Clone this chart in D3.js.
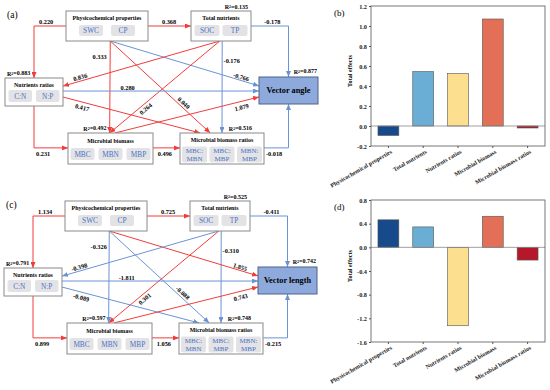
<!DOCTYPE html>
<html lang="en">
<head>
<meta charset="UTF-8" />
<title>SEM paths and total effects</title>
<script src="https://d3js.org/d3.v7.min.js"></script>
<style>
  body { margin: 0; background: #fff; }
  svg { font-family: "Liberation Serif", "Times New Roman", serif; }
</style>
</head>
<body>
<svg id="fig" width="550" height="390"></svg>
<script>
// latent constructs of the path model
var constructNames = ["Physicochemical properties", "Total nutrients", "Nutrients ratios", "Microbial biomass", "Microbial biomass ratios"];
var constructKeys = ["PP", "TN", "NR", "MB", "MBR"];
var indicators = [["SWC", "CP"], ["SOC", "TP"], ["C:N", "N:P"], ["MBC", "MBN", "MBP"], ["MBC:|MBN", "MBC:|MBP", "MBN:|MBP"]];
var responses = ["Vector angle", "Vector length"];

// paths and their coefficients
var pathFrom = ["PP", "PP", "TN", "MBR", "TN", "PP", "PP", "PP", "TN", "TN", "NR", "NR", "NR", "MB", "MB"];
var pathTo   = ["NR", "TN", "Y", "Y", "MBR", "MB", "Y", "MBR", "NR", "MB", "Y", "MBR", "MB", "MBR", "Y"];
var coefAngle  = [0.220, 0.368, -0.178, -0.018, -0.176, 0.333, -0.766, 0.040, 0.836, 0.264, 0.280, 0.417, 0.231, 0.496, 1.079];
var coefLength = [1.134, 0.725, -0.411, -0.215, -0.310, -0.326, 1.855, -0.088, -0.398, 0.301, -1.811, -0.089, 0.899, 1.056, 0.743];

// R2 for TN, NR, MB, MBR, response
var r2Angle  = [0.135, 0.883, 0.492, 0.516, 0.877];
var r2Length = [0.525, 0.791, 0.597, 0.748, 0.742];

// total effects
var effectNames = ["Physicochemical properties", "Total nutrients", "Nutrients ratios", "Microbial biomass", "Microbial biomass ratios"];
var totalAngle  = [-0.095, 0.545, 0.525, 1.07, -0.02];
var totalLength = [0.465, 0.345, -1.325, 0.525, -0.215];
var ticksAngle  = [-0.2, 0.0, 0.2, 0.4, 0.6, 0.8, 1.0, 1.2];
var ticksLength = [-1.6, -1.2, -0.8, -0.4, 0.0, 0.4, 0.8];

var RED = "#f23c3c", BLUE = "#6a93d6";
var barColors = ["#174a8b", "#6aaed6", "#fde08f", "#e36f56", "#b5182b"];

var svg = d3.select("#fig");

var defs = svg.append("defs");
[["red", RED], ["blue", BLUE]].forEach(function (m) {
  defs.append("marker")
    .attr("id", "arr-" + m[0])
    .attr("markerUnits", "userSpaceOnUse")
    .attr("viewBox", "0 0 6 5")
    .attr("refX", 6).attr("refY", 2.5)
    .attr("markerWidth", 6).attr("markerHeight", 5)
    .attr("orient", "auto")
    .append("path").attr("d", "M0,0L6,2.5L0,5Z").attr("fill", m[1]);
});

// box layout of the diagram (panel coords)
var box = {
  PP:  {x: 66,  y: 11,  w: 82, h: 30, sw: 24,   gap: 8,   sy: 14,   sh: 11, ty: 6.5},
  TN:  {x: 191, y: 11,  w: 60, h: 30, sw: 25,   gap: 3,   sy: 14,   sh: 11, ty: 6.5},
  NR:  {x: 5,   y: 78,  w: 58, h: 28, sw: 23.5, gap: 4,   sy: 12,   sh: 12, ty: 6.5},
  MB:  {x: 68,  y: 133, w: 85, h: 31, sw: 24,   gap: 4,   sy: 15,   sh: 12, ty: 7.5},
  MBR: {x: 180, y: 133, w: 84, h: 31, sw: 25,   gap: 2.5, sy: 13.5, sh: 16, ty: 7},
  Y:   {x: 259, y: 77,  w: 59, h: 27}
};
function L(k, f) { var b = box[k]; return [b.x, b.y + f * b.h]; }
function R(k, f) { var b = box[k]; return [b.x + b.w, b.y + f * b.h]; }
function T(k, f) { var b = box[k]; return [b.x + f * b.w, b.y]; }
function B(k, f) { var b = box[k]; return [b.x + f * b.w, b.y + b.h]; }

var routes = {
  "PP-NR":  function () { var s = L("PP", 0.5), e = T("NR", 0.5); return [s, [e[0], s[1]], e]; },
  "PP-TN":  function () { return [R("PP", 0.5), L("TN", 0.5)]; },
  "TN-Y":   function () { var s = R("TN", 0.5), e = T("Y", 0.5); return [s, [e[0], s[1]], e]; },
  "MBR-Y":  function () { var s = R("MBR", 0.48), e = B("Y", 0.5); return [s, [e[0], s[1]], e]; },
  "TN-MBR": function () { return [B("TN", 0.52), T("MBR", 0.5)]; },
  "PP-MB":  function () { return [B("PP", 0.54), T("MB", 0.49)]; },
  "PP-Y":   function () { return [B("PP", 0.54), L("Y", 0.33)]; },
  "PP-MBR": function () { return [B("PP", 0.54), T("MBR", 0.36)]; },
  "TN-NR":  function () { return [B("TN", 0.48), R("NR", 0.29)]; },
  "TN-MB":  function () { return [B("TN", 0.48), T("MB", 0.49)]; },
  "NR-Y":   function () { return [R("NR", 0.465), L("Y", 0.52)]; },
  "NR-MBR": function () { return [R("NR", 0.68), T("MBR", 0.24)]; },
  "NR-MB":  function () { var s = B("NR", 0.5), e = L("MB", 0.48); return [s, [s[0], e[1]], e]; },
  "MB-MBR": function () { return [R("MB", 0.48), L("MBR", 0.48)]; },
  "MB-Y":   function () { return [T("MB", 0.55), L("Y", 0.74)]; }
};
// label placement: segment, t along it, dx, dy, rotate with line
var labelPos = {
  "PP-NR": [0, 0.62, 0, -4.5, false], "PP-TN": [0, 0.49, 0, -4.5, false],
  "TN-Y": [0, 0.57, 0, -4.5, false], "MBR-Y": [0, 0.41, 0, 5.5, false],
  "TN-MBR": [0, 0.21, 9.5, 0, false], "PP-MB": [0, 0.17, -10.5, 0, false],
  "PP-Y": [0, 0.88, 0, -3.5, true], "PP-MBR": [0, 0.7, 3.5, -2.5, true],
  "TN-NR": [0, 0.89, 0, -4, true], "TN-MB": [0, 0.7, 3, 3.5, true],
  "NR-Y": [0, 0.33, 0, -3.5, false], "NR-MBR": [0, 0.14, 0, 5.5, true],
  "NR-MB": [1, 0.27, 0, 6, false], "MB-MBR": [0, 0.44, 0, 6, false],
  "MB-Y": [0, 0.88, 0, 6, true]
};
var r2Pos = {
  TN: ["end", 248, 7], NR: ["start", 7, 73.5], MB: ["middle", 95, 128.5],
  MBR: ["middle", 240.5, 128.5], Y: ["end", 317, 71.5]
};

function drawDiagram(ox, oy, tag, coefs, r2s, response, oddBlue) {
  var g = svg.append("g").attr("transform", "translate(" + ox + "," + oy + ")");
  g.append("text").attr("x", 7).attr("y", 18).attr("font-size", 9.5).text(tag);

  // paths
  pathFrom.forEach(function (f, i) {
    var key = f + "-" + pathTo[i];
    var pts = routes[key]();
    var blue = coefs[i] < 0 || oddBlue.indexOf(i) >= 0;
    g.append("path")
      .attr("d", d3.line()(pts))
      .attr("fill", "none")
      .attr("stroke", blue ? BLUE : RED)
      .attr("stroke-width", 1)
      .attr("marker-end", "url(#arr-" + (blue ? "blue" : "red") + ")");
    var lp = labelPos[key];
    var a = pts[lp[0]], b = pts[lp[0] + 1];
    var px = a[0] + (b[0] - a[0]) * lp[1] + lp[2];
    var py = a[1] + (b[1] - a[1]) * lp[1] + lp[3];
    var ang = Math.atan2(b[1] - a[1], b[0] - a[0]) * 180 / Math.PI;
    if (ang > 90) ang -= 180;
    if (ang < -90) ang += 180;
    g.append("text")
      .attr("transform", "translate(" + px + "," + py + ")" + (lp[4] ? " rotate(" + ang + ")" : ""))
      .attr("text-anchor", "middle").attr("dy", "0.35em")
      .attr("font-size", 6.3).attr("font-weight", "bold")
      .text(coefs[i].toFixed(3));
  });

  // construct boxes
  constructKeys.forEach(function (k, i) {
    var b = box[k];
    g.append("rect").attr("x", b.x).attr("y", b.y).attr("width", b.w).attr("height", b.h)
      .attr("fill", "#fff").attr("stroke", "#8a8a8a").attr("stroke-width", 1);
    g.append("text").attr("x", b.x + b.w / 2).attr("y", b.y + b.ty).attr("dy", "0.35em")
      .attr("text-anchor", "middle").attr("font-size", 5.9).attr("font-weight", "bold")
      .text(constructNames[i]);
    var n = indicators[i].length;
    var total = n * b.sw + (n - 1) * b.gap;
    var x0 = b.x + (b.w - total) / 2;
    indicators[i].forEach(function (lab, j) {
      var sx = x0 + j * (b.sw + b.gap);
      g.append("rect").attr("x", sx).attr("y", b.y + b.sy).attr("width", b.sw).attr("height", b.sh)
        .attr("rx", 2).attr("fill", "#e3e3e6");
      var lines = lab.split("|");
      var t = g.append("text").attr("text-anchor", "middle").attr("fill", "#4a72c4")
        .attr("font-size", lines.length > 1 ? 7 : 7.3);
      lines.forEach(function (ln, m) {
        var cy = b.y + b.sy + b.sh / 2 + (lines.length > 1 ? (m - 0.5) * 7.4 : 0);
        t.append("tspan").attr("x", sx + b.sw / 2).attr("y", cy).attr("dy", "0.35em").text(ln);
      });
    });
  });

  // response box
  var y = box.Y;
  g.append("rect").attr("x", y.x).attr("y", y.y).attr("width", y.w).attr("height", y.h)
    .attr("fill", "#8eaadc").attr("stroke", "#4d6488").attr("stroke-width", 1);
  g.append("text").attr("x", y.x + y.w / 2).attr("y", y.y + y.h / 2).attr("dy", "0.35em")
    .attr("text-anchor", "middle").attr("font-size", 8.3).attr("font-weight", "bold")
    .text(response);

  // R2 labels
  ["TN", "NR", "MB", "MBR", "Y"].forEach(function (k, i) {
    var p = r2Pos[k];
    var t = g.append("text").attr("x", p[1]).attr("y", p[2]).attr("dy", "0.35em")
      .attr("text-anchor", p[0]).attr("font-size", 6).attr("font-weight", "bold");
    t.append("tspan").text("R");
    t.append("tspan").attr("font-size", 4).attr("dy", "-0.25em").text("2");
    t.append("tspan").attr("dy", "0.12em").text("=" + r2s[i].toFixed(3));
  });
}

function drawBars(tag, values, ticks, top, bottom) {
  var left = 371, right = 545;
  var g = svg.append("g");
  var x = d3.scaleBand().domain(effectNames).range([left, right]).paddingInner(0.4).paddingOuter(0.2);
  var y = d3.scaleLinear().domain([ticks[0], ticks[ticks.length - 1]]).range([bottom, top]);

  g.append("text").attr("x", 334).attr("y", top + 10).attr("font-size", 9).text(tag);

  g.selectAll("rect.bar").data(values).enter().append("rect")
    .attr("class", "bar")
    .attr("x", function (d, i) { return x(effectNames[i]); })
    .attr("width", x.bandwidth())
    .attr("y", function (d) { return y(Math.max(0, d)); })
    .attr("height", function (d) { return Math.abs(y(d) - y(0)); })
    .attr("fill", function (d, i) { return barColors[i]; })
    .attr("stroke", "#555").attr("stroke-width", 0.6);

  g.append("line").attr("x1", left).attr("x2", right).attr("y1", y(0)).attr("y2", y(0))
    .attr("stroke", "#888").attr("stroke-width", 0.8);

  var ya = g.append("g").attr("transform", "translate(" + left + ",0)")
    .call(d3.axisLeft(y).tickValues(ticks).tickSize(2).tickPadding(2)
      .tickFormat(function (d) { return d.toFixed(1); }));
  ya.select(".domain").remove();
  ya.selectAll("text").attr("font-family", "Liberation Serif, serif")
    .attr("font-size", 6.3).attr("font-weight", "bold").attr("fill", "#222");
  ya.selectAll("line").attr("stroke", "#555");

  var xa = g.append("g").attr("transform", "translate(0," + bottom + ")")
    .call(d3.axisBottom(x).tickSize(2).tickFormat(""));
  xa.select(".domain").remove();
  xa.selectAll("line").attr("stroke", "#555");
  xa.selectAll(".tick").append("text")
    .attr("transform", "translate(3,5) rotate(-30)")
    .attr("text-anchor", "end").attr("dy", "0.35em")
    .attr("fill", "#222").attr("font-family", "Liberation Serif, serif")
    .attr("font-size", 6).attr("font-weight", "bold")
    .text(function (d) { return d; });

  g.append("rect").attr("x", left).attr("y", top).attr("width", right - left).attr("height", bottom - top)
    .attr("fill", "none").attr("stroke", "#555").attr("stroke-width", 0.8);

  g.append("text")
    .attr("transform", "translate(350," + ((top + bottom) / 2 - 5) + ") rotate(-90)")
    .attr("text-anchor", "middle").attr("dy", "0.35em")
    .attr("font-size", 6.2).attr("font-weight", "bold")
    .text("Total effects");
}

// the 0.280 path (index 10) is drawn blue in the original figure
drawDiagram(0, 0, "(a)", coefAngle, r2Angle, responses[0], [10]);
drawDiagram(-1, 190, "(c)", coefLength, r2Length, responses[1], []);
drawBars("(b)", totalAngle, ticksAngle, 6, 146);
drawBars("(d)", totalLength, ticksLength, 200, 342);
</script>
</body>
</html>
